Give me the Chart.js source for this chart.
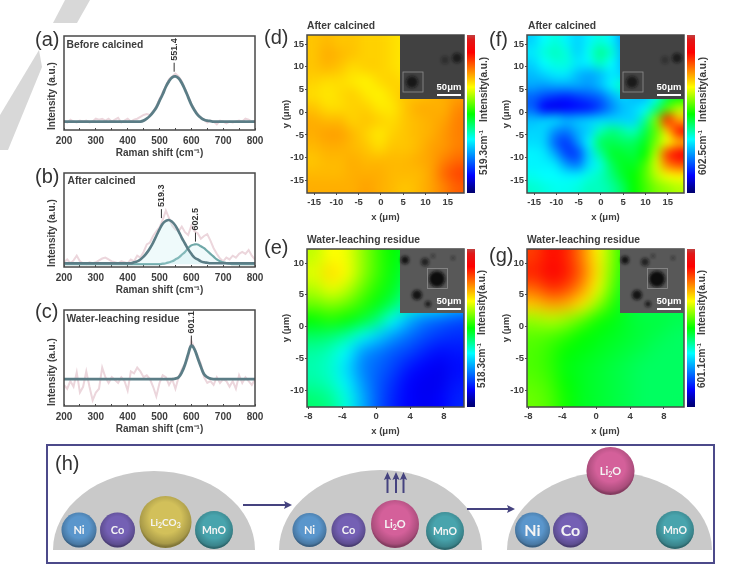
<!DOCTYPE html>
<html>
<head>
<meta charset="utf-8">
<title>Raman spectra and mapping</title>
<script src="https://cdn.jsdelivr.net/npm/chart.js@4"></script>
<style>
  html, body { margin: 0; padding: 0; background: #fff; }
  #stage { position: relative; width: 736px; height: 586px; overflow: hidden; filter: blur(0.45px); }
  #stage canvas { position: absolute; }
  #overlay { position: absolute; left: 0; top: 0; pointer-events: none; }
</style>
</head>
<body>
<div id="stage"></div>
<script>
const ramanShift = [
  200, 210, 220, 230, 240, 250, 260, 270, 280, 290,
  300, 310, 320, 330, 340, 350, 360, 370, 380, 390,
  400, 410, 420, 430, 440, 450, 460, 470, 480, 490,
  500, 510, 520, 530, 540, 550, 560, 570, 580, 590,
  600, 610, 620, 630, 640, 650, 660, 670, 680, 690,
  700, 710, 720, 730, 740, 750, 760, 770, 780, 790,
  800,
];

const rawA = [
  10, 8, 11, 9, 8, 10, 9, 10, 8, 9,
  12, 11, 12, 10, 12, 9, 11, 13, 8, 10,
  12, 9, 11, 12, 14, 16, 17, 16, 20, 25,
  33, 40, 47, 54, 57, 60, 57, 52, 44, 36,
  28, 22, 17, 13, 11, 8, 10, 9, 6, 10,
  9, 7, 9, 8, 9, 10, 9, 12, 11, 9,
  10,
];
const fitA = [
  9, 9, 9, 9, 9, 9, 9, 9, 9, 9,
  9, 9, 9, 9, 9, 9, 9, 9, 9, 9,
  9, 9, 9, 9, 9, 10, 12, 15, 19, 24,
  31, 38, 46, 52, 56, 57, 55, 50, 43, 35,
  27, 21, 16, 13, 11, 10, 9.5, 9, 9, 9,
  9, 9, 9, 9, 9, 9, 9, 9, 9, 9,
  9,
];

const rawB = [
  5, 8, 4, 7, 12, 6, 4, 3, 5, 4,
  5, 7, 9, 10, 8, 6, 5, 4, 6, 5,
  4, 8, 6, 12, 10, 16, 24, 26, 33, 38,
  42, 50, 60, 52, 44, 40, 38, 43, 37, 34,
  44, 38, 36, 30, 33, 35, 28, 20, 14, 9,
  6, 10, 8, 12, 10, 14, 16, 14, 18, 12,
  8,
];
const fitB1 = [
  4, 4, 4, 4, 4, 4, 4, 4, 4, 4,
  4, 4, 4, 4, 4, 4, 4, 4, 4, 4,
  4, 4, 5, 6, 8, 11, 15, 20, 26, 33,
  40, 46, 49, 50, 48, 44, 38, 31, 25, 19,
  14, 10, 8, 6, 5, 4.5, 4, 4, 4, 4,
  4, 4, 4, 4, 4, 4, 4, 4, 4, 4,
  4,
];
const fitB2 = [
  3, 3, 3, 3, 3, 3, 3, 3, 3, 3,
  3, 3, 3, 3, 3, 3, 3, 3, 3, 3,
  3, 3, 3, 3, 3, 3, 3, 3, 3, 3,
  3, 3.5, 4, 5, 6, 8, 10, 13, 16, 20,
  23, 24, 24, 22, 20, 17, 14, 11, 8, 6,
  5, 4, 3.5, 3, 3, 3, 3, 3, 3, 3,
  3,
];

const rawC = [
  22, 18, 26, 20, 35, 14, 20, 36, 20, 6,
  14, 18, 40, 30, 24, 30, 27, 24, 30, 26,
  16, 36, 34, 40, 36, 30, 32, 28, 20, 10,
  24, 32, 30, 22, 28, 18, 30, 38, 44, 50,
  68, 60, 52, 44, 30, 24, 26, 22, 30, 24,
  28, 26, 20, 26, 18, 32, 24, 30, 26, 22,
  28,
];
const fitC = [
  28, 28, 28, 28, 28, 28, 28, 28, 28, 28,
  28, 28, 28, 28, 28, 28, 28, 28, 28, 28,
  28, 28, 28, 28, 28, 28, 28, 28, 28, 28,
  28, 28, 28, 28, 28, 28.5, 30, 35, 43, 54,
  63, 59, 50, 41, 33, 30, 28.5, 28, 28, 28,
  28, 28, 28, 28, 28, 28, 28, 28, 28, 28,
  28,
];

const ramanTicks = [200, 300, 400, 500, 600, 700, 800];

// colour bar of the maps
const colorPositions = [0, 0.03, 0.11, 0.34, 0.5, 0.67, 0.89, 0.97, 1];
const colorValues = ["#00006e", "#000090", "#0000ff", "#00ffff", "#00ff00", "#ffff00", "#ff0000", "#e01818", "#c04040"];

// map values run from 0 (bottom of colour bar) to 1 (top), rows from top to bottom
const mapD = [
  [0.72, 0.73, 0.72, 0.72, 0.71, 0.71, 0.70, 0.69, 0.70, 0.70, 0.70, 0.70],
  [0.72, 0.74, 0.73, 0.72, 0.71, 0.71, 0.70, 0.69, 0.70, 0.70, 0.70, 0.70],
  [0.72, 0.73, 0.72, 0.70, 0.71, 0.71, 0.70, 0.69, 0.69, 0.70, 0.70, 0.70],
  [0.71, 0.70, 0.70, 0.69, 0.68, 0.70, 0.71, 0.70, 0.71, 0.72, 0.72, 0.74],
  [0.70, 0.69, 0.70, 0.71, 0.69, 0.68, 0.70, 0.72, 0.72, 0.73, 0.74, 0.75],
  [0.72, 0.70, 0.70, 0.71, 0.71, 0.69, 0.69, 0.72, 0.74, 0.74, 0.74, 0.77],
  [0.74, 0.73, 0.73, 0.71, 0.72, 0.71, 0.70, 0.72, 0.73, 0.74, 0.75, 0.78],
  [0.74, 0.75, 0.75, 0.73, 0.71, 0.69, 0.71, 0.72, 0.73, 0.74, 0.76, 0.78],
  [0.73, 0.74, 0.74, 0.73, 0.72, 0.70, 0.72, 0.72, 0.73, 0.75, 0.76, 0.78],
  [0.72, 0.73, 0.73, 0.74, 0.73, 0.73, 0.73, 0.73, 0.74, 0.75, 0.78, 0.80],
  [0.73, 0.73, 0.73, 0.74, 0.74, 0.74, 0.73, 0.73, 0.73, 0.75, 0.80, 0.83],
  [0.74, 0.74, 0.74, 0.74, 0.75, 0.74, 0.73, 0.72, 0.73, 0.75, 0.78, 0.81],
];
const mapF = [
  [0.30, 0.34, 0.36, 0.33, 0.30, 0.33, 0.36, 0.33, 0.26, 0.20, 0.18, 0.20, 0.20, 0.20],
  [0.32, 0.36, 0.38, 0.36, 0.30, 0.35, 0.41, 0.37, 0.28, 0.22, 0.20, 0.20, 0.20, 0.20],
  [0.30, 0.34, 0.36, 0.36, 0.32, 0.33, 0.38, 0.34, 0.28, 0.22, 0.20, 0.20, 0.20, 0.20],
  [0.28, 0.30, 0.32, 0.32, 0.28, 0.26, 0.28, 0.32, 0.30, 0.26, 0.22, 0.22, 0.22, 0.22],
  [0.26, 0.25, 0.26, 0.26, 0.26, 0.25, 0.28, 0.33, 0.38, 0.34, 0.25, 0.25, 0.25, 0.25],
  [0.20, 0.17, 0.15, 0.14, 0.16, 0.18, 0.20, 0.26, 0.30, 0.28, 0.28, 0.35, 0.45, 0.50],
  [0.20, 0.11, 0.10, 0.11, 0.12, 0.13, 0.17, 0.23, 0.28, 0.30, 0.33, 0.42, 0.55, 0.62],
  [0.28, 0.29, 0.30, 0.27, 0.28, 0.29, 0.30, 0.30, 0.30, 0.30, 0.40, 0.58, 0.86, 0.74],
  [0.30, 0.30, 0.24, 0.22, 0.27, 0.30, 0.38, 0.42, 0.40, 0.38, 0.45, 0.56, 0.72, 0.87],
  [0.31, 0.30, 0.20, 0.16, 0.24, 0.33, 0.44, 0.45, 0.44, 0.44, 0.48, 0.58, 0.66, 0.74],
  [0.33, 0.32, 0.26, 0.17, 0.17, 0.30, 0.40, 0.47, 0.47, 0.46, 0.50, 0.62, 0.84, 0.90],
  [0.33, 0.33, 0.32, 0.25, 0.22, 0.31, 0.36, 0.44, 0.48, 0.48, 0.54, 0.64, 0.78, 0.82],
  [0.35, 0.34, 0.34, 0.33, 0.33, 0.36, 0.38, 0.42, 0.47, 0.50, 0.55, 0.62, 0.66, 0.68],
  [0.37, 0.36, 0.35, 0.35, 0.36, 0.38, 0.38, 0.40, 0.44, 0.50, 0.54, 0.58, 0.60, 0.62],
];
const mapE = [
  [0.63, 0.67, 0.66, 0.60, 0.54, 0.50, 0.47, 0.45, 0.42, 0.40],
  [0.65, 0.70, 0.67, 0.60, 0.54, 0.49, 0.45, 0.42, 0.40, 0.40],
  [0.62, 0.66, 0.63, 0.57, 0.52, 0.48, 0.42, 0.40, 0.40, 0.40],
  [0.57, 0.59, 0.57, 0.53, 0.49, 0.44, 0.38, 0.35, 0.35, 0.30],
  [0.50, 0.52, 0.50, 0.47, 0.42, 0.34, 0.27, 0.22, 0.20, 0.18],
  [0.44, 0.43, 0.40, 0.35, 0.30, 0.25, 0.21, 0.18, 0.16, 0.15],
  [0.40, 0.38, 0.34, 0.25, 0.22, 0.19, 0.17, 0.14, 0.12, 0.13],
  [0.39, 0.37, 0.31, 0.23, 0.20, 0.17, 0.13, 0.11, 0.10, 0.12],
  [0.40, 0.38, 0.33, 0.25, 0.19, 0.15, 0.11, 0.10, 0.10, 0.13],
  [0.43, 0.41, 0.36, 0.27, 0.19, 0.14, 0.11, 0.10, 0.11, 0.14],
];
const mapG = [
  [0.84, 0.88, 0.86, 0.78, 0.68, 0.58, 0.50, 0.47, 0.46, 0.45],
  [0.86, 0.90, 0.87, 0.80, 0.69, 0.57, 0.49, 0.46, 0.45, 0.45],
  [0.80, 0.85, 0.83, 0.76, 0.66, 0.55, 0.47, 0.45, 0.45, 0.45],
  [0.72, 0.75, 0.74, 0.69, 0.60, 0.52, 0.47, 0.45, 0.45, 0.45],
  [0.60, 0.62, 0.60, 0.56, 0.51, 0.49, 0.47, 0.46, 0.46, 0.45],
  [0.56, 0.55, 0.53, 0.50, 0.49, 0.48, 0.47, 0.46, 0.45, 0.44],
  [0.55, 0.53, 0.50, 0.49, 0.48, 0.47, 0.46, 0.45, 0.44, 0.44],
  [0.55, 0.53, 0.49, 0.48, 0.47, 0.46, 0.45, 0.44, 0.44, 0.44],
  [0.56, 0.54, 0.50, 0.48, 0.47, 0.46, 0.45, 0.44, 0.44, 0.44],
  [0.57, 0.55, 0.51, 0.48, 0.47, 0.46, 0.45, 0.44, 0.44, 0.44],
];

const FONT = "'Liberation Sans', Arial, sans-serif";
const INK = "#3d3d3d";
const stage = document.getElementById("stage");

function colorCss(value) {
  let i = 1;
  while (i < colorPositions.length - 1 && value > colorPositions[i]) i += 1;
  const t = Math.min(1, Math.max(0, (value - colorPositions[i - 1]) / (colorPositions[i] - colorPositions[i - 1])));
  const a = parseInt(colorValues[i - 1].slice(1), 16);
  const b = parseInt(colorValues[i].slice(1), 16);
  const mix = (shift) => Math.round(((a >> shift) & 255) * (1 - t) + ((b >> shift) & 255) * t);
  return `rgb(${mix(16)},${mix(8)},${mix(0)})`;
}

// places a canvas so that the chart area falls exactly on the given rectangle
function addCanvas(box, left, top, right, bottom) {
  const canvas = document.createElement("canvas");
  canvas.width = left + box.w + right;
  canvas.height = top + box.h + bottom;
  canvas.style.left = `${box.x - left}px`;
  canvas.style.top = `${box.y - top}px`;
  canvas.style.width = `${canvas.width}px`;
  canvas.style.height = `${canvas.height}px`;
  stage.appendChild(canvas);
  return canvas;
}

function fixedSize(prop, size) {
  return (scale) => {
    scale[prop] = size;
    scale.paddingLeft = scale.paddingRight = scale.paddingTop = scale.paddingBottom = 0;
  };
}

const framePlugin = {
  id: "frame",
  afterDraw(chart) {
    const { ctx, chartArea: a } = chart;
    ctx.save();
    ctx.strokeStyle = "#484848";
    ctx.lineWidth = 1.5;
    ctx.strokeRect(a.left, a.top, a.right - a.left, a.bottom - a.top);
    ctx.restore();
  },
};

const peakPlugin = {
  id: "peaks",
  afterDatasetsDraw(chart, args, opts) {
    const { ctx, scales } = chart;
    (opts.labels || []).forEach((label, i) => {
      const px = scales.x.getPixelForValue(opts.x[i]);
      const py = scales.y.getPixelForValue(opts.y[i]);
      ctx.save();
      ctx.strokeStyle = "#333";
      ctx.lineWidth = 1;
      ctx.beginPath();
      ctx.moveTo(px, py);
      ctx.lineTo(px, py - 9);
      ctx.stroke();
      ctx.translate(px, py - 11);
      ctx.rotate(-Math.PI / 2);
      ctx.fillStyle = "#333";
      ctx.font = `bold 9px ${FONT}`;
      ctx.textAlign = "left";
      ctx.textBaseline = "middle";
      ctx.fillText(label, 0, 0);
      ctx.restore();
    });
  },
};

const heatPlugin = {
  id: "heat",
  beforeDatasetsDraw(chart, args, opts) {
    const { ctx, chartArea: a, scales } = chart;
    const rows = opts.rows;
    const small = document.createElement("canvas");
    small.width = rows[0].length;
    small.height = rows.length;
    const sctx = small.getContext("2d");
    rows.forEach((row, r) => row.forEach((value, c) => {
      sctx.fillStyle = colorCss(value);
      sctx.fillRect(c, r, 1, 1);
    }));
    const x0 = scales.x.getPixelForValue(scales.x.min);
    const x1 = scales.x.getPixelForValue(scales.x.max);
    const y0 = scales.y.getPixelForValue(scales.y.max);
    const y1 = scales.y.getPixelForValue(scales.y.min);
    ctx.save();
    ctx.imageSmoothingEnabled = true;
    ctx.imageSmoothingQuality = "high";
    ctx.drawImage(small, x0, y0, x1 - x0, y1 - y0);
    ctx.save();
    ctx.beginPath();
    ctx.rect(x0, y0, x1 - x0, y1 - y0);
    ctx.clip();
    ctx.filter = `blur(${opts.blur}px)`;
    ctx.drawImage(small, x0, y0, x1 - x0, y1 - y0);
    ctx.restore();
    // colour bar
    const grad = ctx.createLinearGradient(0, a.bottom, 0, a.top);
    colorPositions.forEach((p, i) => grad.addColorStop(p, colorValues[i]));
    ctx.fillStyle = grad;
    ctx.fillRect(a.right + 3, a.top, 8, a.bottom - a.top);
    ctx.restore();
  },
};

function spectrumChart(box, series, peaks) {
  const canvas = addCanvas(box, 18, 4, 20, 29);
  const axisFont = { family: FONT, size: 10, weight: "bold" };
  new Chart(canvas, {
    type: "line",
    data: {
      labels: ramanShift,
      // the first dataset is drawn on top, so the fits go first
      datasets: series.slice().reverse().map((s) => ({
        data: s.values.map((y, i) => ({ x: ramanShift[i], y })),
        borderColor: s.color,
        borderWidth: s.width,
        backgroundColor: s.fill || "transparent",
        fill: s.fill ? { value: 3 } : false,
        pointRadius: 0,
        tension: s.smooth ? 0.4 : 0,
      })),
    },
    options: {
      responsive: false,
      animation: false,
      events: [],
      layout: { padding: { top: 4, right: 20 } },
      plugins: { legend: { display: false }, tooltip: { enabled: false }, peaks },
      scales: {
        x: {
          type: "linear",
          min: 200,
          max: 800,
          afterFit: fixedSize("height", 29),
          afterBuildTicks: (scale) => {
            scale.ticks = ramanShift.filter((v) => v % 50 === 0).map((value) => ({ value }));
          },
          grid: { drawOnChartArea: false, tickLength: -2, tickColor: "#484848" },
          border: { display: false },
          ticks: {
            autoSkip: false,
            maxRotation: 0,
            padding: 7,
            color: INK,
            font: axisFont,
            callback: (v) => (ramanTicks.includes(v) ? String(v) : ""),
          },
          title: { display: true, text: "Raman shift (cm⁻¹)", color: INK, padding: 0, font: axisFont },
        },
        y: {
          min: 0,
          max: 100,
          afterFit: fixedSize("width", 18),
          grid: { display: false },
          border: { display: false },
          ticks: { display: false },
          title: { display: true, align: "start", text: "Intensity (a.u.)", color: INK, padding: 0, font: axisFont },
        },
      },
    },
    plugins: [framePlugin, peakPlugin],
  });
}

function mapChart(box, rows, xRange, yRange, xStep, yStep, blur) {
  const canvas = addCanvas(box, 26, 3, 14, 30);
  const cells = rows.flatMap((row, r) => row.map((v, c) => ({
    x: xRange[0] + ((c + 0.5) / row.length) * (xRange[1] - xRange[0]),
    y: yRange[1] - ((r + 0.5) / rows.length) * (yRange[1] - yRange[0]),
  })));
  const tickFont = { family: FONT, size: 9.5, weight: "bold" };
  new Chart(canvas, {
    type: "scatter",
    data: { datasets: [{ data: cells, pointRadius: 0 }] },
    options: {
      responsive: false,
      animation: false,
      events: [],
      layout: { padding: { top: 3, right: 14 } },
      plugins: { legend: { display: false }, tooltip: { enabled: false }, heat: { rows, blur } },
      scales: {
        x: {
          type: "linear",
          min: xRange[0],
          max: xRange[1],
          afterFit: fixedSize("height", 30),
          grid: { drawOnChartArea: false, tickLength: 2, tickColor: "#484848" },
          border: { display: false },
          ticks: { stepSize: xStep, includeBounds: false, autoSkip: false, maxRotation: 0, padding: 2, color: INK, font: tickFont },
          title: { display: true, text: "x (μm)", color: INK, padding: 0, font: tickFont },
        },
        y: {
          type: "linear",
          min: yRange[0],
          max: yRange[1],
          afterFit: fixedSize("width", 26),
          grid: { drawOnChartArea: false, tickLength: 2, tickColor: "#484848" },
          border: { display: false },
          ticks: { stepSize: yStep, includeBounds: false, autoSkip: false, padding: 1, color: INK, font: tickFont },
          title: { display: true, text: "y (μm)", color: INK, padding: 0, font: tickFont },
        },
      },
    },
    plugins: [framePlugin, heatPlugin],
  });
}

const RAW = "#ecd6dc";
const FIT = "#5b7d86";
const FIT2 = "#6fa8a8";

spectrumChart({ x: 64, y: 36, w: 191, h: 94 },
  [{ values: rawA, color: RAW, width: 2 }, { values: fitA, color: FIT, width: 2.8, smooth: true }],
  { labels: ["551.4"], x: [546], y: [62] });
spectrumChart({ x: 64, y: 173, w: 191, h: 94 },
  [
    { values: rawB, color: RAW, width: 2 },
    { values: fitB2, color: FIT2, width: 2.2, smooth: true, fill: "rgba(190,235,240,0.25)" },
    { values: fitB1, color: FIT, width: 2.6, smooth: true, fill: "rgba(190,235,240,0.25)" },
  ],
  { labels: ["519.3", "602.5"], x: [506, 613], y: [52, 27] });
spectrumChart({ x: 64, y: 310, w: 191, h: 96 },
  [{ values: rawC, color: RAW, width: 2 }, { values: fitC, color: FIT, width: 2.8, smooth: true }],
  { labels: ["601.1"], x: [600], y: [64] });

mapChart({ x: 307, y: 35, w: 157, h: 158 }, mapD, [-16.6, 18.65], [-17.8, 17], 5, 5, 3);
mapChart({ x: 527, y: 35, w: 157, h: 158 }, mapF, [-16.6, 18.65], [-17.8, 17], 5, 5, 3);
mapChart({ x: 307, y: 249, w: 157, h: 158 }, mapE, [-8.15, 10.36], [-12.6, 12.2], 4, 5, 6);
mapChart({ x: 527, y: 249, w: 157, h: 158 }, mapG, [-8.15, 10.36], [-12.6, 12.2], 4, 5, 6);

function inset(dx, dy, color, blobs, square) {
  const spots = blobs.map(([x, y, r, o]) => `<circle cx="${x + dx}" cy="${y + dy}" r="${r}" fill="#0c0c0c" opacity="${o}" filter="url(#soft)"/>`).join("");
  return `<rect x="${400 + dx}" y="${35 + dy}" width="64" height="64" fill="${color}"/>${spots}
    <rect x="${square[0] + dx}" y="${square[1] + dy}" width="20" height="20" fill="none" stroke="#8e8e8e" stroke-width="0.8"/>
    <rect x="${437 + dx}" y="${94 + dy}" width="24" height="2" fill="#fff"/>
    <text x="${449 + dx}" y="${90 + dy}" text-anchor="middle" fill="#fff" font-size="9.5" font-weight="bold">50μm</text>`;
}

function barLabel(x, yLow, yHigh, name) {
  return `<text transform="translate(${x},${yHigh}) rotate(-90)" class="b" font-size="10" dominant-baseline="middle">Intensity(a.u.)</text>
    <text transform="translate(${x},${yLow}) rotate(-90)" class="b" font-size="10" dominant-baseline="middle">${name}cm<tspan font-size="6" dy="-3">-1</tspan></text>`;
}

function ball(cx, cy, r, color, label, size = 11) {
  return `<circle cx="${cx}" cy="${cy}" r="${r}" fill="${color}"/>
    <circle cx="${cx}" cy="${cy}" r="${r}" fill="url(#shade)"/>
    <text x="${cx}" y="${cy + size * 0.36}" text-anchor="middle" fill="#f4f4f4" font-family="Lato" font-weight="bold" font-size="${size}">${label}</text>`;
}

function dome(x0, x1, top) {
  const rx = (x1 - x0) / 2;
  return `<path d="M${x0} 550 A${rx} ${550 - top} 0 0 1 ${x1} 550 Z" fill="#c9c9c9"/>`;
}

function arrow(x0, x1, y) {
  return `<line x1="${x0}" y1="${y}" x2="${x1 - 5}" y2="${y}" stroke="#45437f" stroke-width="2"/>
    <path d="M${x1} ${y} l-8 -4 l1.5 4 l-1.5 4 Z" fill="#45437f"/>`;
}

function upArrow(x) {
  return `<line x1="${x}" y1="493" x2="${x}" y2="477" stroke="#45437f" stroke-width="2"/>
    <path d="M${x} 472 l-3.6 8 l3.6 -1.4 l3.6 1.4 Z" fill="#45437f"/>`;
}

const NI = "#5a96cc", CO = "#7460b4", LC = "#d2c05a", MN = "#48a4ad", LO = "#d4609a";
const li2o = `Li<tspan font-size="7" dy="2">2</tspan><tspan dy="-2">O</tspan>`;
const li2co3 = `Li<tspan font-size="7" dy="2">2</tspan><tspan dy="-2">CO</tspan><tspan font-size="7" dy="2">3</tspan>`;

const panelLetters = [["(a)", 35, 46], ["(b)", 35, 183], ["(c)", 35, 318], ["(d)", 264, 44], ["(e)", 264, 254], ["(f)", 489, 46], ["(g)", 489, 262], ["(h)", 55, 470]];
const panelTitles = [
  ["Before calcined", 66.5, 48], ["After calcined", 67.5, 184], ["Water-leaching residue", 66.5, 322],
  ["After calcined", 307, 29], ["After calcined", 528, 29], ["Water-leaching residue", 307, 243], ["Water-leaching residue", 527, 243],
];

const overlay = `
<svg id="overlay" width="736" height="586" font-family="${FONT.replace(/'/g, "")}">
  <style>.b { font-weight: bold; fill: ${INK}; }</style>
  <defs>
    <filter id="soft" x="-50%" y="-50%" width="200%" height="200%"><feGaussianBlur stdDeviation="1.6"/></filter>
    <radialGradient id="shade" cx="50%" cy="42%" r="55%">
      <stop offset="0.55" stop-color="#000" stop-opacity="0"/>
      <stop offset="0.9" stop-color="#000" stop-opacity="0.2"/>
      <stop offset="1" stop-color="#000" stop-opacity="0.38"/>
    </radialGradient>
  </defs>
  <polygon points="65,0 90,0 77,23 53,23" fill="#d8d8d8"/>
  <polygon points="39,50 42,67 8,150 0,150 0,115" fill="#d8d8d8"/>
  ${panelLetters.map(([t, x, y]) => `<text x="${x}" y="${y}" font-size="20" fill="#333">${t}</text>`).join("")}
  ${panelTitles.map(([t, x, y]) => `<text x="${x}" y="${y}" class="b" font-size="10.3">${t}</text>`).join("")}
  ${inset(0, 0, "#414141", [[412, 82, 6, 0.8], [457, 58, 5, 0.7], [445, 60, 4, 0.35]], [403, 72])}
  ${inset(220, 0, "#434343", [[412, 82, 6, 0.75], [457, 58, 5, 0.7], [445, 60, 4, 0.3]], [403, 72])}
  ${inset(0, 214, "#585858", [[437, 65, 8, 1], [405, 46, 4, 0.9], [425, 48, 4, 0.7], [417, 81, 5, 0.9], [428, 90, 3, 0.8], [453, 44, 2, 0.5], [433, 42, 2, 0.5]], [427.5, 54.5])}
  ${inset(220, 214, "#585858", [[437, 65, 8, 1], [405, 46, 4, 0.9], [425, 48, 4, 0.7], [417, 81, 5, 0.9], [428, 90, 3, 0.8], [453, 44, 2, 0.5], [433, 42, 2, 0.5]], [427.5, 54.5])}
  ${barLabel(484, 175, 122, "519.3")}
  ${barLabel(703, 175, 122, "602.5")}
  ${barLabel(482, 388, 335, "518.3")}
  ${barLabel(702, 388, 335, "601.1")}
  <rect x="47" y="445" width="667" height="118" fill="none" stroke="#4c4a8a" stroke-width="2"/>
  ${dome(53, 255, 471)}${dome(279, 482, 470)}${dome(507, 712, 472)}
  ${arrow(243, 292, 505)}${arrow(467, 515, 509)}
  ${upArrow(387.5)}${upArrow(396)}${upArrow(403.5)}
  ${ball(79, 530, 17.5, NI, "Ni")}${ball(117.5, 530, 17.5, CO, "Co")}${ball(165.5, 522, 26, LC, li2co3, 10)}${ball(214, 530, 19, MN, "MnO", 10.5)}
  ${ball(309.5, 530, 17, NI, "Ni")}${ball(348.5, 530, 17, CO, "Co")}${ball(395, 524, 24, LO, li2o)}${ball(445, 531, 19, MN, "MnO", 10.5)}
  ${ball(532.5, 530, 17.5, NI, "Ni", 16)}${ball(570.5, 530, 17.5, CO, "Co", 16)}${ball(675, 530, 19, MN, "MnO", 10.5)}${ball(610.5, 471, 24, LO, li2o)}
</svg>`;
stage.insertAdjacentHTML("beforeend", overlay);
</script>
</body>
</html>
